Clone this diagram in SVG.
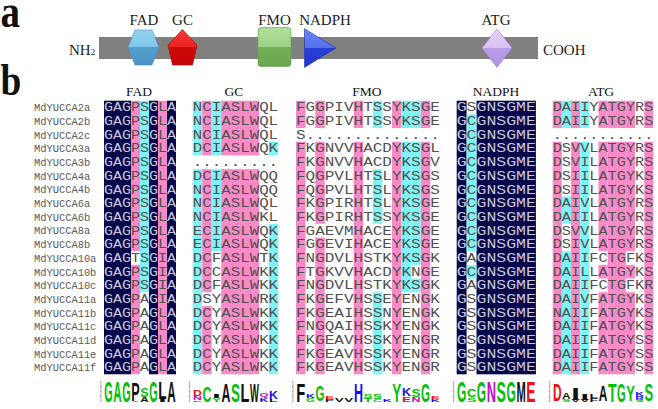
<svg xmlns="http://www.w3.org/2000/svg" width="658" height="409" viewBox="0 0 658 409">
<defs>
<style>
.lbl{font-family:"Liberation Serif",serif;font-weight:bold;fill:#111}
.ta{font-family:"Liberation Serif",serif;font-size:15px;fill:#222}
.hd{font-family:"Liberation Serif",serif;font-size:13.5px;fill:#111;text-anchor:middle}
.nm{font-family:"Liberation Mono",monospace;font-size:10.4px;fill:#5a5a5a}
.sq text{font-family:"Liberation Mono",monospace;font-size:12px;fill:#505050}
.sq .w{fill:#c8c8dc}
.nv{fill:#06064a}
.pk{fill:#f98ac8}
.cy{fill:#80f4f4}
.lg{font-family:"Liberation Sans",sans-serif;font-weight:bold;font-size:10px}
.gr{fill:#04c004}.bk{fill:#111}.bl{fill:#1010f0}.rd{fill:#f01010}.pu{fill:#c010c0}
.ax{stroke:#333;stroke-width:0.4;fill:none}
</style>
<linearGradient id="gHex" x1="0" y1="0" x2="0" y2="1"><stop offset="0" stop-color="#93d3ef"/><stop offset="0.5" stop-color="#80c6e8"/><stop offset="0.5" stop-color="#559fcf"/><stop offset="1" stop-color="#4a94c6"/></linearGradient>
<linearGradient id="gPen" x1="0" y1="0" x2="0" y2="1"><stop offset="0" stop-color="#f43a3a"/><stop offset="0.5" stop-color="#ea2222"/><stop offset="0.5" stop-color="#cf0a0a"/><stop offset="1" stop-color="#c40606"/></linearGradient>
<linearGradient id="gRec" x1="0" y1="0" x2="0" y2="1"><stop offset="0" stop-color="#b2e09c"/><stop offset="0.5" stop-color="#9dd286"/><stop offset="0.5" stop-color="#75b05a"/><stop offset="1" stop-color="#6aa650"/></linearGradient>
<linearGradient id="gTri" x1="0" y1="0" x2="0" y2="1"><stop offset="0" stop-color="#6a86f6"/><stop offset="0.5" stop-color="#5470f0"/><stop offset="0.5" stop-color="#2a40d8"/><stop offset="1" stop-color="#2234cc"/></linearGradient>
<linearGradient id="gDia" x1="0" y1="0" x2="0" y2="1"><stop offset="0" stop-color="#e4d2f7"/><stop offset="0.5" stop-color="#d6c0f2"/><stop offset="0.5" stop-color="#bc9ee8"/><stop offset="1" stop-color="#b090e2"/></linearGradient>
</defs>
<rect width="658" height="409" fill="#fff"/>

<!-- panel a -->
<g id="panel-a">
<text class="lbl" font-size="46" transform="translate(0.5 27) scale(0.85 1)">a</text>
<rect id="bar" x="99" y="37" width="439" height="22" fill="#808080"/>
<text class="ta" x="69" y="55" font-size="14">NH<tspan font-size="9">2</tspan></text>
<text class="ta" x="543" y="55" font-size="14">COOH</text>
<g id="dom-fad"><polygon points="135,30 152,30 159,47.5 152,65 135,65 128,47.5" fill="url(#gHex)" stroke="#4a8fbf" stroke-width="0.6"/><text class="ta" x="144" y="24.5" text-anchor="middle">FAD</text></g>
<g id="dom-gc"><polygon points="182.5,29.5 197,45 192.5,65 172.5,65 168,45" fill="url(#gPen)" stroke="#b00000" stroke-width="0.6"/><text class="ta" x="182.5" y="24.5" text-anchor="middle">GC</text></g>
<g id="dom-fmo"><rect x="258" y="27.5" width="33" height="39" rx="3" fill="url(#gRec)" stroke="#6a9a50" stroke-width="0.6"/><text class="ta" x="274.5" y="24.5" text-anchor="middle">FMO</text></g>
<g id="dom-nadph"><polygon points="304.5,28.7 336,48 304.5,67.5" fill="url(#gTri)" stroke="#2030b0" stroke-width="0.6"/><text class="ta" x="325" y="24.5" text-anchor="middle">NADPH</text></g>
<g id="dom-atg"><polygon points="497,28.7 512,48 497,67.5 482,48" fill="url(#gDia)" stroke="#a080d0" stroke-width="0.6"/><text class="ta" x="496" y="24.5" text-anchor="middle">ATG</text></g>
</g>

<!-- panel b -->
<text class="lbl" font-size="44" transform="translate(0.5 95) scale(0.85 1)">b</text>
<g id="headers">
<text class="hd" x="139" y="95.5">FAD</text>
<text class="hd" x="234" y="95.5">GC</text>
<text class="hd" x="367" y="95.5">FMO</text>
<text class="hd" x="496" y="95.5">NADPH</text>
<text class="hd" x="601" y="95.5">ATG</text>
</g>

<g id="names" class="nm">
<text x="34" y="111.3">MdYUCCA2a</text>
<text x="34" y="125.0">MdYUCCA2b</text>
<text x="34" y="138.7">MdYUCCA2c</text>
<text x="34" y="152.3">MdYUCCA3a</text>
<text x="34" y="166.0">MdYUCCA3b</text>
<text x="34" y="179.7">MdYUCCA4a</text>
<text x="34" y="193.4">MdYUCCA4b</text>
<text x="34" y="207.1">MdYUCCA6a</text>
<text x="34" y="220.7">MdYUCCA6b</text>
<text x="34" y="234.4">MdYUCCA8a</text>
<text x="34" y="248.1">MdYUCCA8b</text>
<text x="34" y="261.8">MdYUCCA10a</text>
<text x="34" y="275.5">MdYUCCA10b</text>
<text x="34" y="289.1">MdYUCCA10c</text>
<text x="34" y="302.8">MdYUCCA11a</text>
<text x="34" y="316.5">MdYUCCA11b</text>
<text x="34" y="330.2">MdYUCCA11c</text>
<text x="34" y="343.9">MdYUCCA11d</text>
<text x="34" y="357.5">MdYUCCA11e</text>
<text x="34" y="371.2">MdYUCCA11f</text>
</g>

<!-- shading -->
<g id="shading">
<rect class="nv" x="104" y="100.7" width="27" height="273.6"/>
<rect class="nv" x="149" y="100.7" width="9" height="273.6"/>
<rect class="nv" x="167" y="100.7" width="9" height="273.6"/>
<rect class="pk" x="131" y="100.7" width="9" height="150.48"/>
<rect class="pk" x="131" y="264.86" width="9" height="109.44"/>
<rect class="pk" x="158" y="100.7" width="9" height="273.6"/>
<rect class="cy" x="140" y="100.7" width="9" height="191.52"/>

<rect class="cy" x="192.7" y="100.7" width="9.5" height="54.72"/>
<rect class="cy" x="192.7" y="169.1" width="9.5" height="205.2"/>
<rect class="pk" x="202.2" y="100.7" width="9.5" height="54.72"/>
<rect class="pk" x="202.2" y="169.1" width="9.5" height="123.12"/>
<rect class="pk" x="202.2" y="305.9" width="9.5" height="68.4"/>
<rect class="cy" x="211.7" y="100.7" width="9.5" height="54.72"/>
<rect class="cy" x="211.7" y="169.1" width="9.5" height="82.08"/>
<rect class="pk" x="221.2" y="100.7" width="38" height="54.72"/>
<rect class="pk" x="221.2" y="169.1" width="38" height="205.2"/>
<rect class="cy" x="268.7" y="141.74" width="9.5" height="13.68"/>
<rect class="cy" x="268.7" y="223.82" width="9.5" height="150.48"/>

<rect class="pk" x="296" y="100.7" width="9.6" height="27.36"/>
<rect class="pk" x="296" y="141.74" width="9.6" height="232.56"/>
<rect class="pk" x="315.2" y="100.7" width="9.6" height="27.36"/>
<rect class="pk" x="315.2" y="141.74" width="9.6" height="82.08"/>
<rect class="pk" x="315.2" y="237.5" width="9.6" height="136.8"/>
<rect class="pk" x="353.6" y="100.7" width="9.6" height="27.36"/>
<rect class="pk" x="353.6" y="141.74" width="9.6" height="232.56"/>
<rect class="cy" x="372.8" y="100.7" width="9.6" height="27.36"/>
<rect class="cy" x="372.8" y="169.1" width="9.6" height="54.72"/>
<rect class="cy" x="372.8" y="292.22" width="9.6" height="82.08"/>
<rect class="pk" x="392" y="100.7" width="9.6" height="27.36"/>
<rect class="pk" x="392" y="141.74" width="9.6" height="232.56"/>
<rect class="cy" x="401.6" y="100.7" width="9.6" height="27.36"/>
<rect class="cy" x="401.6" y="141.74" width="9.6" height="150.48"/>
<rect class="cy" x="411.2" y="100.7" width="9.6" height="27.36"/>
<rect class="cy" x="411.2" y="141.74" width="9.6" height="123.12"/>
<rect class="cy" x="411.2" y="278.54" width="9.6" height="13.68"/>
<rect class="pk" x="420.8" y="100.7" width="9.6" height="27.36"/>
<rect class="pk" x="420.8" y="141.74" width="9.6" height="232.56"/>

<rect class="nv" x="456.7" y="100.7" width="9.9" height="273.6"/>
<rect class="nv" x="476.5" y="100.7" width="59.4" height="273.6"/>
<rect class="cy" x="466.6" y="114.38" width="9.9" height="136.8"/>
<rect class="cy" x="466.6" y="264.86" width="9.9" height="13.68"/>

<rect class="pk" x="552.7" y="100.7" width="9.15" height="27.36"/>
<rect class="pk" x="552.7" y="141.74" width="9.15" height="232.56"/>
<rect class="cy" x="561.85" y="100.7" width="9.15" height="27.36"/>
<rect class="cy" x="561.85" y="196.46" width="9.15" height="27.36"/>
<rect class="cy" x="561.85" y="251.18" width="9.15" height="123.12"/>
<rect class="pk" x="571" y="100.7" width="9.15" height="27.36"/>
<rect class="pk" x="571" y="141.74" width="9.15" height="232.56"/>
<rect class="cy" x="580.15" y="100.7" width="9.15" height="27.36"/>
<rect class="cy" x="580.15" y="141.74" width="9.15" height="232.56"/>
<rect class="pk" x="598.45" y="100.7" width="9.15" height="27.36"/>
<rect class="pk" x="598.45" y="141.74" width="9.15" height="109.44"/>
<rect class="pk" x="598.45" y="264.86" width="9.15" height="13.68"/>
<rect class="pk" x="598.45" y="292.22" width="9.15" height="82.08"/>
<rect class="pk" x="607.6" y="100.7" width="18.3" height="27.36"/>
<rect class="pk" x="607.6" y="141.74" width="18.3" height="232.56"/>
<rect class="pk" x="625.9" y="100.7" width="9.15" height="27.36"/>
<rect class="pk" x="625.9" y="141.74" width="9.15" height="109.44"/>
<rect class="pk" x="625.9" y="264.86" width="9.15" height="13.68"/>
<rect class="pk" x="625.9" y="292.22" width="9.15" height="82.08"/>
<rect class="pk" x="644.2" y="100.7" width="9.15" height="27.36"/>
<rect class="pk" x="644.2" y="141.74" width="9.15" height="232.56"/>
</g>

<!-- FAD sequences -->
<g id="seq-fad" class="sq" transform="translate(104 0) scale(1.25 1)">
<text y="111.5"><tspan class="w">GAG</tspan>PS<tspan class="w">G</tspan>L<tspan class="w">A</tspan></text>
<text y="125.2"><tspan class="w">GAG</tspan>PS<tspan class="w">G</tspan>L<tspan class="w">A</tspan></text>
<text y="138.9"><tspan class="w">GAG</tspan>PS<tspan class="w">G</tspan>L<tspan class="w">A</tspan></text>
<text y="152.5"><tspan class="w">GAG</tspan>PS<tspan class="w">G</tspan>L<tspan class="w">A</tspan></text>
<text y="166.2"><tspan class="w">GAG</tspan>PS<tspan class="w">G</tspan>L<tspan class="w">A</tspan></text>
<text y="179.9"><tspan class="w">GAG</tspan>PS<tspan class="w">G</tspan>L<tspan class="w">A</tspan></text>
<text y="193.6"><tspan class="w">GAG</tspan>PS<tspan class="w">G</tspan>L<tspan class="w">A</tspan></text>
<text y="207.3"><tspan class="w">GAG</tspan>PS<tspan class="w">G</tspan>L<tspan class="w">A</tspan></text>
<text y="220.9"><tspan class="w">GAG</tspan>PS<tspan class="w">G</tspan>L<tspan class="w">A</tspan></text>
<text y="234.6"><tspan class="w">GAG</tspan>PS<tspan class="w">G</tspan>L<tspan class="w">A</tspan></text>
<text y="248.3"><tspan class="w">GAG</tspan>PS<tspan class="w">G</tspan>L<tspan class="w">A</tspan></text>
<text y="262.0"><tspan class="w">GAG</tspan>TS<tspan class="w">G</tspan>I<tspan class="w">A</tspan></text>
<text y="275.7"><tspan class="w">GAG</tspan>PS<tspan class="w">G</tspan>I<tspan class="w">A</tspan></text>
<text y="289.3"><tspan class="w">GAG</tspan>PS<tspan class="w">G</tspan>I<tspan class="w">A</tspan></text>
<text y="303.0"><tspan class="w">GAG</tspan>PA<tspan class="w">G</tspan>I<tspan class="w">A</tspan></text>
<text y="316.7"><tspan class="w">GAG</tspan>PA<tspan class="w">G</tspan>L<tspan class="w">A</tspan></text>
<text y="330.4"><tspan class="w">GAG</tspan>PA<tspan class="w">G</tspan>L<tspan class="w">A</tspan></text>
<text y="344.1"><tspan class="w">GAG</tspan>PA<tspan class="w">G</tspan>L<tspan class="w">A</tspan></text>
<text y="357.7"><tspan class="w">GAG</tspan>PA<tspan class="w">G</tspan>L<tspan class="w">A</tspan></text>
<text y="371.4"><tspan class="w">GAG</tspan>PA<tspan class="w">G</tspan>L<tspan class="w">A</tspan></text>
</g>

<g id="seq-gc" class="sq" transform="translate(192.7 0) scale(1.3194 1)">
<text y="111.5">NCIASLWQL</text>
<text y="125.2">NCIASLWQL</text>
<text y="138.9">NCIASLWQL</text>
<text y="152.5">DCIASLWQK</text>
<text y="166.2">.........</text>
<text y="179.9">DCIASLWQQ</text>
<text y="193.6">NCIASLWQQ</text>
<text y="207.3">NCIASLWQL</text>
<text y="220.9">NCIASLWKL</text>
<text y="234.6">ECIASLWQK</text>
<text y="248.3">ECIASLWQK</text>
<text y="262.0">DCFASLWTK</text>
<text y="275.7">DCCASLWKK</text>
<text y="289.3">DCFASLWKK</text>
<text y="303.0">DSYASLWRK</text>
<text y="316.7">DCYASLWKK</text>
<text y="330.4">DCYASLWKK</text>
<text y="344.1">DCYASLWKK</text>
<text y="357.7">DCYASLWKK</text>
<text y="371.4">DCYASLWKK</text>
</g>

<g id="seq-fmo" class="sq" transform="translate(296 0) scale(1.3333 1)">
<text y="111.5">FGGPIVHTSSYKSGE</text>
<text y="125.2">FGGPIVHTSSYKSGE</text>
<text y="138.9">S..............</text>
<text y="152.5">FKGNVVHACDYKSGL</text>
<text y="166.2">FKGNVVHACDYKSGV</text>
<text y="179.9">FQGPVLHTSLYKSGS</text>
<text y="193.6">FQGPVLHTSLYKSGS</text>
<text y="207.3">FKGPIRHTSLYKSGE</text>
<text y="220.9">FKGPIRHTSSYKSGE</text>
<text y="234.6">FGAEVMHACEYKSGE</text>
<text y="248.3">FGGEVIHACEYKSGE</text>
<text y="262.0">FNGDVLHSTKYKSGK</text>
<text y="275.7">FTGKVVHACDYKNGE</text>
<text y="289.3">FNGDVLHSTKYKSGK</text>
<text y="303.0">FKGEFVHSSEYENGK</text>
<text y="316.7">FKGEAIHSSNYENGK</text>
<text y="330.4">FNGQAIHSSKYENGK</text>
<text y="344.1">FKGEAVHSSKYENGR</text>
<text y="357.7">FKGEAVHSSKYENGR</text>
<text y="371.4">FKGEAVHSSKYENGR</text>
</g>

<g id="seq-nadph" class="sq" transform="translate(456.7 0) scale(1.375 1)">
<text y="111.5"><tspan class="w">G</tspan>S<tspan class="w">GNSGME</tspan></text>
<text y="125.2"><tspan class="w">G</tspan>C<tspan class="w">GNSGME</tspan></text>
<text y="138.9"><tspan class="w">G</tspan>C<tspan class="w">GNSGME</tspan></text>
<text y="152.5"><tspan class="w">G</tspan>C<tspan class="w">GNSGME</tspan></text>
<text y="166.2"><tspan class="w">G</tspan>C<tspan class="w">GNSGME</tspan></text>
<text y="179.9"><tspan class="w">G</tspan>C<tspan class="w">GNSGME</tspan></text>
<text y="193.6"><tspan class="w">G</tspan>C<tspan class="w">GNSGME</tspan></text>
<text y="207.3"><tspan class="w">G</tspan>C<tspan class="w">GNSGME</tspan></text>
<text y="220.9"><tspan class="w">G</tspan>C<tspan class="w">GNSGME</tspan></text>
<text y="234.6"><tspan class="w">G</tspan>C<tspan class="w">GNSGME</tspan></text>
<text y="248.3"><tspan class="w">G</tspan>C<tspan class="w">GNSGME</tspan></text>
<text y="262.0"><tspan class="w">G</tspan>A<tspan class="w">GNSGME</tspan></text>
<text y="275.7"><tspan class="w">G</tspan>C<tspan class="w">GNSGME</tspan></text>
<text y="289.3"><tspan class="w">G</tspan>A<tspan class="w">GNSGME</tspan></text>
<text y="303.0"><tspan class="w">G</tspan>S<tspan class="w">GNSGME</tspan></text>
<text y="316.7"><tspan class="w">G</tspan>S<tspan class="w">GNSGME</tspan></text>
<text y="330.4"><tspan class="w">G</tspan>S<tspan class="w">GNSGME</tspan></text>
<text y="344.1"><tspan class="w">G</tspan>S<tspan class="w">GNSGME</tspan></text>
<text y="357.7"><tspan class="w">G</tspan>S<tspan class="w">GNSGME</tspan></text>
<text y="371.4"><tspan class="w">G</tspan>S<tspan class="w">GNSGME</tspan></text>
</g>

<g id="seq-atg" class="sq" transform="translate(552.7 0) scale(1.2708 1)">
<text y="111.5">DAIIYATGYRS</text>
<text y="125.2">DAIIYATGYRS</text>
<text y="138.9">...........</text>
<text y="152.5">DSVVLATGYRS</text>
<text y="166.2">DSVILATGYRS</text>
<text y="179.9">DSIILATGYKS</text>
<text y="193.6">DSIILATGYKS</text>
<text y="207.3">DAIVLATGYRS</text>
<text y="220.9">DAIILATGYRS</text>
<text y="234.6">DSVVLATGYRS</text>
<text y="248.3">DSIVLATGYRS</text>
<text y="262.0">DAIIFCTGFKS</text>
<text y="275.7">DAILLATGYKS</text>
<text y="289.3">DAIIFCTGFKR</text>
<text y="303.0">DAIVFATGYKS</text>
<text y="316.7">NAIIFATGYKS</text>
<text y="330.4">DAIIFATGYKS</text>
<text y="344.1">DAIIFATGYSS</text>
<text y="357.7">DAIIFATGYSS</text>
<text y="371.4">DAIIFATGYSS</text>
</g>

<!-- sequence logos -->
<g id="logo-fad">
<path class="ax" d="M101 381.5V401.5M100 381.5h1M100 386.5h1M100 391.5h1M100 396.5h1M100 401.5h1"/>
<text class="lg gr" textLength="8.4" lengthAdjust="spacingAndGlyphs" transform="translate(104.3 401.5) scale(1 2.9)">G</text>
<text class="lg gr" textLength="8.4" lengthAdjust="spacingAndGlyphs" transform="translate(113.3 401.5) scale(1 2.9)">A</text>
<text class="lg gr" textLength="8.4" lengthAdjust="spacingAndGlyphs" transform="translate(122.3 401.5) scale(1 2.9)">G</text>
<text class="lg bk" textLength="8.4" lengthAdjust="spacingAndGlyphs" transform="translate(131.3 400.5) scale(1 2.5)">P</text>
<text class="lg gr" textLength="8.4" lengthAdjust="spacingAndGlyphs" transform="translate(131.3 401.5) scale(1 0.15)">T</text>
<text class="lg gr" textLength="8.4" lengthAdjust="spacingAndGlyphs" transform="translate(140.3 396.5) scale(1 1.2)">S</text>
<text class="lg bk" textLength="8.4" lengthAdjust="spacingAndGlyphs" transform="translate(140.3 401.5) scale(1 0.7)">A</text>
<text class="lg gr" textLength="8.4" lengthAdjust="spacingAndGlyphs" transform="translate(149.3 401.5) scale(1 2.9)">G</text>
<text class="lg bk" textLength="8.4" lengthAdjust="spacingAndGlyphs" transform="translate(158.3 399) scale(1 2.4)">L</text>
<text class="lg bk" textLength="8.4" lengthAdjust="spacingAndGlyphs" transform="translate(158.3 401.5) scale(1 0.35)">I</text>
<text class="lg bk" textLength="8.4" lengthAdjust="spacingAndGlyphs" transform="translate(167.3 401.5) scale(1 2.9)">A</text>
</g>

<g id="logo-gc">
<path class="ax" d="M189.7 381.5V401.5M188.7 381.5h1M188.7 386.5h1M188.7 391.5h1M188.7 396.5h1M188.7 401.5h1"/>
<text class="lg rd" textLength="8.9" lengthAdjust="spacingAndGlyphs" transform="translate(193 396) scale(1 0.9)">D</text>
<text class="lg pu" textLength="8.9" lengthAdjust="spacingAndGlyphs" transform="translate(193 400) scale(1 0.55)">N</text>
<text class="lg rd" textLength="8.9" lengthAdjust="spacingAndGlyphs" transform="translate(193 401.5) scale(1 0.2)">E</text>
<text class="lg gr" textLength="8.9" lengthAdjust="spacingAndGlyphs" transform="translate(202.5 401.5) scale(1 2.2)">C</text>
<text class="lg bk" textLength="8.9" lengthAdjust="spacingAndGlyphs" transform="translate(212 398) scale(1 0.5)">I</text>
<text class="lg gr" textLength="8.9" lengthAdjust="spacingAndGlyphs" transform="translate(212 401.5) scale(1 0.5)">Y</text>
<text class="lg bk" textLength="8.9" lengthAdjust="spacingAndGlyphs" transform="translate(221.5 401.5) scale(1 2.6)">A</text>
<text class="lg gr" textLength="8.9" lengthAdjust="spacingAndGlyphs" transform="translate(231 401.5) scale(1 2.6)">S</text>
<text class="lg bk" textLength="8.9" lengthAdjust="spacingAndGlyphs" transform="translate(240.5 401.5) scale(1 2.6)">L</text>
<text class="lg bk" textLength="8.9" lengthAdjust="spacingAndGlyphs" transform="translate(250 401.5) scale(1 2.6)">W</text>
<text class="lg pu" textLength="8.9" lengthAdjust="spacingAndGlyphs" transform="translate(259.5 397) scale(1 0.6)">Q</text>
<text class="lg bl" textLength="8.9" lengthAdjust="spacingAndGlyphs" transform="translate(259.5 401.5) scale(1 0.6)">K</text>
<text class="lg bl" textLength="8.9" lengthAdjust="spacingAndGlyphs" transform="translate(269 399) scale(1 1)">K</text>
<text class="lg bk" textLength="8.9" lengthAdjust="spacingAndGlyphs" transform="translate(269 401.5) scale(1 0.35)">L</text>
</g>

<g id="logo-fmo">
<path class="ax" d="M293 381.5V401.5M292 381.5h1M292 386.5h1M292 391.5h1M292 396.5h1M292 401.5h1"/>
<text class="lg bk" textLength="9" lengthAdjust="spacingAndGlyphs" transform="translate(296.3 401.5) scale(1 2.6)">F</text>
<text class="lg bl" textLength="9" lengthAdjust="spacingAndGlyphs" transform="translate(305.9 398) scale(1 0.5)">K</text>
<text class="lg gr" textLength="9" lengthAdjust="spacingAndGlyphs" transform="translate(305.9 401.5) scale(1 0.5)">G</text>
<text class="lg gr" textLength="9" lengthAdjust="spacingAndGlyphs" transform="translate(315.5 401) scale(1 2.2)">G</text>
<text class="lg rd" textLength="9" lengthAdjust="spacingAndGlyphs" transform="translate(325.1 398.5) scale(1 0.35)">E</text>
<text class="lg bk" textLength="9" lengthAdjust="spacingAndGlyphs" transform="translate(325.1 401.5) scale(1 0.35)">P</text>
<text class="lg bk" textLength="9" lengthAdjust="spacingAndGlyphs" transform="translate(334.7 401.5) scale(1 0.45)">V</text>
<text class="lg bk" textLength="9" lengthAdjust="spacingAndGlyphs" transform="translate(344.3 401.5) scale(1 0.45)">V</text>
<text class="lg bl" textLength="9" lengthAdjust="spacingAndGlyphs" transform="translate(353.9 401.5) scale(1 2.6)">H</text>
<text class="lg gr" textLength="9" lengthAdjust="spacingAndGlyphs" transform="translate(363.5 397.5) scale(1 0.5)">S</text>
<text class="lg gr" textLength="9" lengthAdjust="spacingAndGlyphs" transform="translate(363.5 401.5) scale(1 0.5)">T</text>
<text class="lg gr" textLength="9" lengthAdjust="spacingAndGlyphs" transform="translate(373.1 398.5) scale(1 0.8)">S</text>
<text class="lg gr" textLength="9" lengthAdjust="spacingAndGlyphs" transform="translate(373.1 401.5) scale(1 0.4)">C</text>
<text class="lg bl" textLength="9" lengthAdjust="spacingAndGlyphs" transform="translate(382.7 401.5) scale(1 0.4)">K</text>
<text class="lg gr" textLength="9" lengthAdjust="spacingAndGlyphs" transform="translate(392.3 401.5) scale(1 2.6)">Y</text>
<text class="lg bl" textLength="9" lengthAdjust="spacingAndGlyphs" transform="translate(401.9 396) scale(1 1.1)">K</text>
<text class="lg rd" textLength="9" lengthAdjust="spacingAndGlyphs" transform="translate(401.9 401.5) scale(1 0.75)">E</text>
<text class="lg gr" textLength="9" lengthAdjust="spacingAndGlyphs" transform="translate(411.5 396.5) scale(1 1)">S</text>
<text class="lg pu" textLength="9" lengthAdjust="spacingAndGlyphs" transform="translate(411.5 401.5) scale(1 0.7)">N</text>
<text class="lg gr" textLength="9" lengthAdjust="spacingAndGlyphs" transform="translate(421.1 401.5) scale(1 2.6)">G</text>
<text class="lg rd" textLength="9" lengthAdjust="spacingAndGlyphs" transform="translate(430.7 398.5) scale(1 0.4)">E</text>
<text class="lg bl" textLength="9" lengthAdjust="spacingAndGlyphs" transform="translate(430.7 401.5) scale(1 0.4)">K</text>
</g>

<g id="logo-nadph">
<path class="ax" d="M453.7 381.5V401.5M452.7 381.5h1M452.7 386.5h1M452.7 391.5h1M452.7 396.5h1M452.7 401.5h1"/>
<text class="lg gr" textLength="9.3" lengthAdjust="spacingAndGlyphs" transform="translate(457 401.5) scale(1 2.9)">G</text>
<text class="lg gr" textLength="9.3" lengthAdjust="spacingAndGlyphs" transform="translate(466.9 397) scale(1 1)">C</text>
<text class="lg gr" textLength="9.3" lengthAdjust="spacingAndGlyphs" transform="translate(466.9 401.5) scale(1 0.6)">S</text>
<text class="lg gr" textLength="9.3" lengthAdjust="spacingAndGlyphs" transform="translate(476.8 401.5) scale(1 2.9)">G</text>
<text class="lg pu" textLength="9.3" lengthAdjust="spacingAndGlyphs" transform="translate(486.7 401.5) scale(1 2.9)">N</text>
<text class="lg gr" textLength="9.3" lengthAdjust="spacingAndGlyphs" transform="translate(496.6 401.5) scale(1 2.9)">S</text>
<text class="lg gr" textLength="9.3" lengthAdjust="spacingAndGlyphs" transform="translate(506.5 401.5) scale(1 2.9)">G</text>
<text class="lg bk" textLength="9.3" lengthAdjust="spacingAndGlyphs" transform="translate(516.4 401.5) scale(1 2.9)">M</text>
<text class="lg rd" textLength="9.3" lengthAdjust="spacingAndGlyphs" transform="translate(526.3 401.5) scale(1 2.9)">E</text>
</g>

<g id="logo-atg">
<path class="ax" d="M549.7 381.5V401.5M548.7 381.5h1M548.7 386.5h1M548.7 391.5h1M548.7 396.5h1M548.7 401.5h1"/>
<text class="lg rd" textLength="8.6" lengthAdjust="spacingAndGlyphs" transform="translate(553 400.5) scale(1 2.4)">D</text>
<text class="lg bk" textLength="8.6" lengthAdjust="spacingAndGlyphs" transform="translate(562.1 398.5) scale(1 0.9)">A</text>
<text class="lg gr" textLength="8.6" lengthAdjust="spacingAndGlyphs" transform="translate(562.1 401.5) scale(1 0.4)">S</text>
<text class="lg bk" textLength="8.6" lengthAdjust="spacingAndGlyphs" transform="translate(571.3 399.5) scale(1 1.6)">I</text>
<text class="lg bk" textLength="8.6" lengthAdjust="spacingAndGlyphs" transform="translate(571.3 401.5) scale(1 0.3)">V</text>
<text class="lg bk" textLength="8.6" lengthAdjust="spacingAndGlyphs" transform="translate(580.4 399.5) scale(1 0.9)">I</text>
<text class="lg bk" textLength="8.6" lengthAdjust="spacingAndGlyphs" transform="translate(580.4 401.5) scale(1 0.3)">V</text>
<text class="lg bk" textLength="8.6" lengthAdjust="spacingAndGlyphs" transform="translate(589.6 397.5) scale(1 0.6)">L</text>
<text class="lg bk" textLength="8.6" lengthAdjust="spacingAndGlyphs" transform="translate(589.6 401.5) scale(1 0.6)">F</text>
<text class="lg bk" textLength="8.6" lengthAdjust="spacingAndGlyphs" transform="translate(598.7 401) scale(1 2.2)">A</text>
<text class="lg gr" textLength="8.6" lengthAdjust="spacingAndGlyphs" transform="translate(607.9 401.5) scale(1 2.6)">T</text>
<text class="lg gr" textLength="8.6" lengthAdjust="spacingAndGlyphs" transform="translate(617 401.5) scale(1 2.6)">G</text>
<text class="lg gr" textLength="8.6" lengthAdjust="spacingAndGlyphs" transform="translate(626.2 401) scale(1 2.2)">Y</text>
<text class="lg bl" textLength="8.6" lengthAdjust="spacingAndGlyphs" transform="translate(635.3 395.5) scale(1 0.6)">K</text>
<text class="lg bl" textLength="8.6" lengthAdjust="spacingAndGlyphs" transform="translate(635.3 399.5) scale(1 0.55)">R</text>
<text class="lg gr" textLength="8.6" lengthAdjust="spacingAndGlyphs" transform="translate(635.3 401.5) scale(1 0.3)">S</text>
<text class="lg gr" textLength="8.6" lengthAdjust="spacingAndGlyphs" transform="translate(644.5 401) scale(1 2.4)">S</text>
</g>
</svg>
